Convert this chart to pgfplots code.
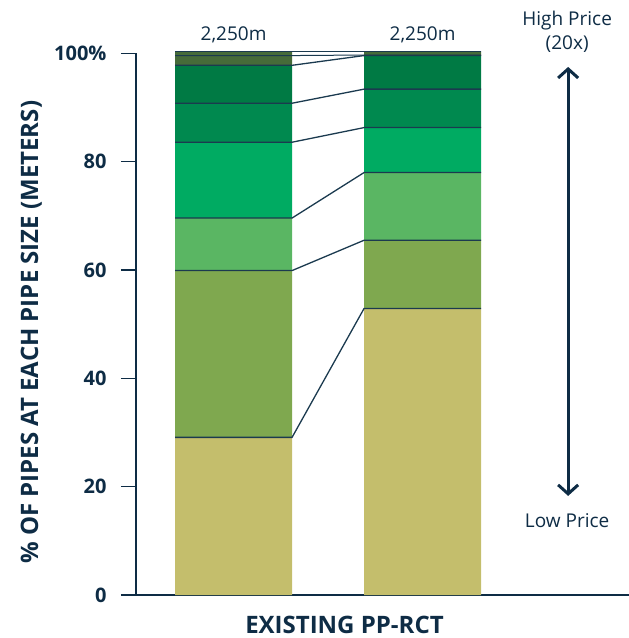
\documentclass[border=0pt]{standalone}
\usepackage{fontspec}
\setmainfont{Open Sans}
\usepackage{pgfplots}
\pgfplotsset{compat=1.18}
\usetikzlibrary{arrows.meta}
\definecolor{navy}{HTML}{0E2C45}
\definecolor{sep}{HTML}{1B3A4F}
\definecolor{cA}{HTML}{C4BE6C}
\definecolor{cB}{HTML}{7FA84F}
\definecolor{cC}{HTML}{5AB663}
\definecolor{cD}{HTML}{00AB62}
\definecolor{cE}{HTML}{00894F}
\definecolor{cF}{HTML}{007A44}
\definecolor{cG}{HTML}{466B39}
\pgfplotsset{base/.style={scale only axis, width=493pt, height=541.6pt,
  xmin=0.484, xmax=3.092, ymin=0, ymax=100, clip=false,
  at={(0pt,0pt)}, anchor=south west}}
\begin{document}
\begin{tikzpicture}
\useasboundingbox (-136pt,-43pt) rectangle (493pt,595pt);
\begin{axis}[base, ybar stacked, bar width=0.619,
  axis x line=bottom, axis y line=left,
  axis line style={navy, line width=1.2pt, -},
  x axis line style={shorten <=-13pt},
  xtick=\empty, ytick={0,20,40,60,80,100},
  yticklabels={0,20,40,60,80,100\%},
  tick align=outside, major tick length=15pt,
  tick style={navy, line width=1.2pt},
  yticklabel style={font=\bfseries\fontsize{20}{24}\selectfont, text=navy, xshift=-11pt}]
\addplot[fill=cA, draw=none] coordinates {(1,29.1) (2,52.9)};
\addplot[fill=cB, draw=none] coordinates {(1,30.8) (2,12.6)};
\addplot[fill=cC, draw=none] coordinates {(1,9.7) (2,12.5)};
\addplot[fill=cD, draw=none] coordinates {(1,14.0) (2,8.3)};
\addplot[fill=cE, draw=none] coordinates {(1,7.2) (2,7.1)};
\addplot[fill=cF, draw=none] coordinates {(1,7.0) (2,6.2)};
\addplot[fill=cG, draw=none] coordinates {(1,1.8) (2,0.1)};
\addplot[fill=cG, draw=none] coordinates {(1,0.8) (2,0.7)};
\end{axis}
\begin{axis}[base, hide axis]
\addplot[sep, line width=1.3pt] coordinates {(0.6905,29.1) (1.3095,29.1) (1.6905,52.9) (2.3095,52.9)};
\addplot[sep, line width=1.3pt] coordinates {(0.6905,59.9) (1.3095,59.9) (1.6905,65.5) (2.3095,65.5)};
\addplot[sep, line width=1.3pt] coordinates {(0.6905,69.6) (1.3095,69.6) (1.6905,78.0) (2.3095,78.0)};
\addplot[sep, line width=1.3pt] coordinates {(0.6905,83.6) (1.3095,83.6) (1.6905,86.3) (2.3095,86.3)};
\addplot[sep, line width=1.3pt] coordinates {(0.6905,90.8) (1.3095,90.8) (1.6905,93.4) (2.3095,93.4)};
\addplot[sep, line width=1.3pt] coordinates {(0.6905,97.8) (1.3095,97.8) (1.6905,99.6) (2.3095,99.6)};
\addplot[sep, line width=1.0pt] coordinates {(0.6905,99.6) (1.3095,99.6) (1.6905,99.7) (2.3095,99.7)};
\addplot[sep, line width=1.3pt] coordinates {(0.6905,100.4) (1.3095,100.4) (1.6905,100.4) (2.3095,100.4)};
\node[anchor=base, text=navy, font=\fontsize{19}{23}\selectfont] at (axis cs:1,102.3) {2,250m};
\node[anchor=base, text=navy, font=\fontsize{19}{23}\selectfont] at (axis cs:2,102.3) {2,250m};
\node[anchor=base, text=navy, font=\fontsize{19}{23}\selectfont] at (axis cs:2.765,105.2) {High Price};
\node[anchor=base, text=navy, font=\fontsize{19}{23}\selectfont] at (axis cs:2.765,100.8) {(20x)};
\node[anchor=base, text=navy, font=\fontsize{19}{23}\selectfont] at (axis cs:2.765,12.55) {Low Price};
\draw[navy, line width=3pt, {Straight Barb[length=9pt,width=20pt]}-{Straight Barb[length=9pt,width=20pt]}] (axis cs:2.770,18.3) -- (axis cs:2.770,97.5);
\node[anchor=base, text=navy, font=\bfseries\fontsize{24}{28}\selectfont] at (axis cs:1.587,-7.15) {EXISTING PP-RCT};
\node[anchor=base, rotate=90, text=navy, font=\bfseries\fontsize{24}{28}\selectfont] at (axis cs:-0.034,48.5) {\% OF PIPES AT EACH PIPE SIZE (METERS)};
\end{axis}
\end{tikzpicture}
\end{document}
